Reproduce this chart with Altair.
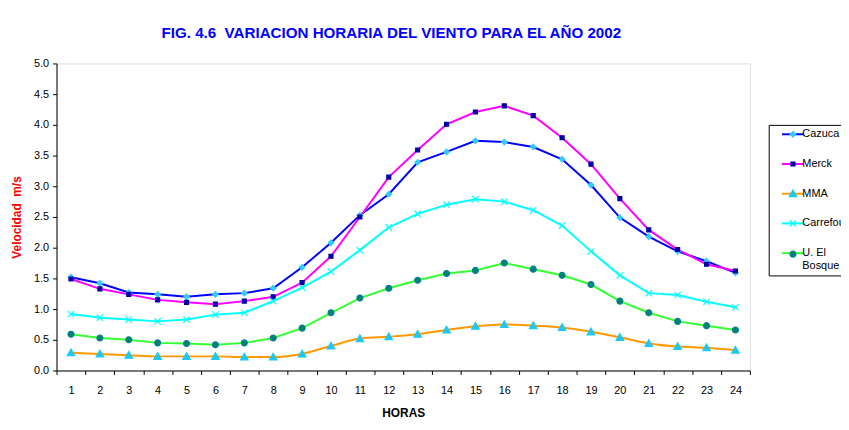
import altair as alt
import pandas as pd

horas = list(range(1, 25))
series = ["Cazuca", "Merck", "MMA", "Carrefour", "U. El Bosque"]

cazuca = [1.52, 1.42, 1.27, 1.24, 1.20, 1.24, 1.26, 1.34, 1.68, 2.08, 2.53, 2.87,
          3.39, 3.56, 3.74, 3.72, 3.64, 3.44, 3.02, 2.49, 2.18, 1.94, 1.78, 1.59]
merck = [1.49, 1.33, 1.24, 1.15, 1.11, 1.08, 1.13, 1.20, 1.43, 1.86, 2.50, 3.15,
         3.59, 4.01, 4.21, 4.31, 4.15, 3.79, 3.36, 2.80, 2.29, 1.97, 1.73, 1.62]
mma = [0.29, 0.27, 0.25, 0.23, 0.23, 0.23, 0.22, 0.22, 0.27, 0.40, 0.52, 0.55,
       0.59, 0.66, 0.72, 0.75, 0.73, 0.70, 0.63, 0.54, 0.44, 0.39, 0.37, 0.33]
carrefour = [0.92, 0.86, 0.83, 0.80, 0.83, 0.91, 0.94, 1.13, 1.35, 1.61, 1.96, 2.33,
             2.55, 2.70, 2.79, 2.75, 2.61, 2.36, 1.94, 1.55, 1.26, 1.23, 1.12, 1.03]
bosque = [0.59, 0.53, 0.50, 0.45, 0.44, 0.42, 0.45, 0.53, 0.69, 0.94, 1.18, 1.34,
          1.47, 1.58, 1.63, 1.75, 1.65, 1.55, 1.40, 1.13, 0.94, 0.80, 0.73, 0.66]

y_ticks = [0, 0.5, 1, 1.5, 2, 2.5, 3, 3.5, 4, 4.5, 5]

line_colors = ["#0000FF", "#FF00FF", "#FF9900", "#00FFFF", "#33FF33"]
line_widths = [2, 2, 2.5, 1.3, 1.3]
marker_fill = ["#33CCFF", "#0000A8", "#1EC8F5", "#00FFFF", "#008080"]
marker_shapes = [
    "M0,-0.7L0.7,0L0,0.7L-0.7,0Z",
    "M-0.5,-0.5H0.5V0.5H-0.5Z",
    "M0,-0.95L0.95,0.75H-0.95Z",
    "M-0.8,-0.8L0.8,0.8M-0.8,0.8L0.8,-0.8",
    "M0.75,0A0.75,0.75,0,1,1,-0.75,0A0.75,0.75,0,1,1,0.75,0Z",
]

values = [cazuca, merck, mma, carrefour, bosque]
rows = []
for name, vals in zip(series, values):
    for h, v in zip(horas, vals):
        rows.append({"hora": h, "valor": v, "serie": name, "serie2": name})
df = pd.DataFrame(rows)

FONT = "Liberation Sans"
label_expr = "datum.label == 'U. El Bosque' ? ['U. El', 'Bosque'] : datum.label"

x_enc = alt.X(
    "hora:O",
    bandPosition=0.5,
    scale=alt.Scale(type="band", paddingInner=0, paddingOuter=0),
    axis=alt.Axis(
        labelAngle=0, tickBand="extent", tickSize=4, labelPadding=10,
        labelFont=FONT, labelFontSize=11, labelColor="black",
        domainColor="black", tickColor="black",
        title="HORAS", titleFont=FONT, titleFontSize=12, titleFontWeight="bold",
        titleColor="black", titleY=42, titleBaseline="middle",
    ),
)
y_enc = alt.Y(
    "valor:Q",
    scale=alt.Scale(domain=[0, 5], nice=False),
    axis=alt.Axis(
        values=y_ticks, format=".1f", grid=False, tickSize=4, labelPadding=4,
        labelFont=FONT, labelFontSize=11, labelColor="black",
        domainColor="black", tickColor="black",
        title="Velocidad\u00a0 m/s", titleFont=FONT, titleFontSize=12, titleFontWeight="bold",
        titleColor="#FF0000", titleX=-40, titleY=155, titleAngle=270,
        titleAlign="center", titleBaseline="middle",
    ),
)

LEG_X = 719
LEG_Y = 62
common = dict(
    title=None, orient="none", legendX=LEG_X, legendY=LEG_Y, padding=4,
    symbolSize=64, symbolOffset=15, labelOffset=4, rowPadding=18,
    labelFont=FONT, labelFontSize=11,
)
line_legend = alt.Legend(
    symbolType="M-2.75,0H2.75", symbolStrokeWidth=2, symbolFillColor="transparent",
    strokeColor="black", labelColor="black", labelExpr=label_expr, zindex=1,
    **common,
)
point_legend = alt.Legend(
    symbolStrokeWidth=1.2, labelColor="black", labelOpacity=0, labelExpr="' '",
    zindex=2, **common,
)

base = alt.Chart(df)

lines_lin = base.transform_filter(alt.datum.serie != "MMA").mark_line(interpolate="linear").encode(
    x=x_enc, y=y_enc,
    stroke=alt.Stroke("serie:N", scale=alt.Scale(domain=series, range=line_colors), legend=line_legend),
    strokeWidth=alt.StrokeWidth("serie:N", scale=alt.Scale(domain=series, range=line_widths), legend=None),
)
lines_mma = base.transform_filter(alt.datum.serie == "MMA").mark_line(interpolate="monotone").encode(
    x=x_enc, y=y_enc,
    stroke=alt.Stroke("serie:N", scale=alt.Scale(domain=series, range=line_colors), legend=None),
    strokeWidth=alt.StrokeWidth("serie:N", scale=alt.Scale(domain=series, range=line_widths), legend=None),
)
points = base.mark_point(filled=True, size=64, strokeWidth=1.2, opacity=1).encode(
    x=x_enc, y=y_enc,
    fill=alt.Fill("serie2:N", scale=alt.Scale(domain=series, range=marker_fill), legend=point_legend),
    stroke=alt.Stroke("serie2:N", scale=alt.Scale(domain=series, range=marker_fill), legend=point_legend),
    shape=alt.Shape("serie2:N", scale=alt.Scale(domain=series, range=marker_shapes), legend=point_legend),
)

chart = alt.layer(lines_lin, lines_mma, points).resolve_scale(
    stroke="independent", strokeWidth="independent", fill="independent", shape="independent"
).properties(
    width=700, height=310,
    autosize=alt.AutoSizeParams(type="none"),
    padding={"left": 49, "top": 54, "right": 92, "bottom": 50},
    title=alt.TitleParams(
        "FIG. 4.6\u00a0 VARIACION HORARIA DEL VIENTO PARA EL AÑO 2002",
        font=FONT, fontSize=15.3, fontWeight="bold", color="#0000FF",
        anchor="middle", frame="group", dx=-12, offset=16,
    ),
).configure_view(stroke="#A0A0A0", strokeWidth=1).configure(background="white")

chart.save("out.html", embed_options={"renderer": "svg", "actions": False})
